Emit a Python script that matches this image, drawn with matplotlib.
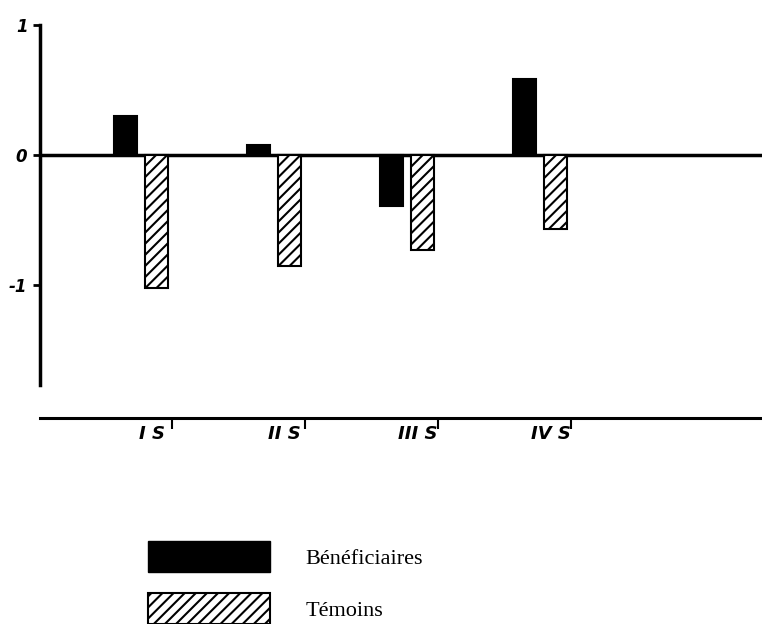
import matplotlib.pyplot as plt
import numpy as np
from matplotlib.patches import Patch
from matplotlib.transforms import ScaledTranslation

plt.rcParams["hatch.linewidth"] = 1.5

# values
periods = ["I S", "II S", "III S", "IV S"]
beneficiaires = [0.30, 0.08, -0.39, 0.59]
temoins = [-1.02, -0.85, -0.73, -0.57]
yticks = [-1, 0, 1]

fig = plt.figure(figsize=(7.62, 6.24), dpi=100)
ax = fig.add_axes([40 / 762, 1 - 440 / 624, 722 / 762, 420 / 624])

x = np.arange(len(periods))
w = 0.17
ax.bar(x - 0.115, beneficiaires, w, color="black", edgecolor="black", lw=1.5, zorder=3)
ax.bar(x + 0.115, temoins, w, color="white", edgecolor="black", hatch="///", lw=1.5, zorder=3)
ax.axhline(0, color="black", lw=2.5, zorder=2)

ax.set_xlim(-0.76, 4.67)
ax.set_ylim(-2.19, 1.04)

for side in ["top", "right"]:
    ax.spines[side].set_visible(False)
ax.spines["left"].set_bounds(-1.77, 1.0)
ax.spines["left"].set_linewidth(2.5)
ax.spines["bottom"].set_position(("data", -2.02))
ax.spines["bottom"].set_linewidth(2.2)

ax.set_yticks(yticks)
ax.set_yticklabels([str(v) for v in yticks], fontsize=12, fontstyle="italic", fontweight="bold")
ax.tick_params(axis="y", direction="out", length=5, width=2, pad=4)

ax.set_xticks(x + 0.23)
ax.set_xticklabels(periods, fontsize=13, fontstyle="italic", fontweight="bold")
ax.tick_params(axis="x", direction="out", length=8, width=1.5, pad=-6)
for lab in ax.get_xticklabels():
    lab.set_transform(lab.get_transform() + ScaledTranslation(-0.2, -0.04, fig.dpi_scale_trans))

# legend
handles = [
    Patch(facecolor="black", edgecolor="black"),
    Patch(facecolor="white", edgecolor="black", hatch="///", lw=1.5),
]
fig.legend(handles, ["Bénéficiaires", "Témoins"], loc="upper left",
           bbox_to_anchor=(148 / 762, 1 - 541 / 624), frameon=False,
           prop={"family": "Liberation Serif", "size": 16},
           handlelength=5.5, handleheight=1.75, labelspacing=0.97,
           handletextpad=1.58, borderpad=0, borderaxespad=0)

fig.savefig("out.png", dpi=100)
